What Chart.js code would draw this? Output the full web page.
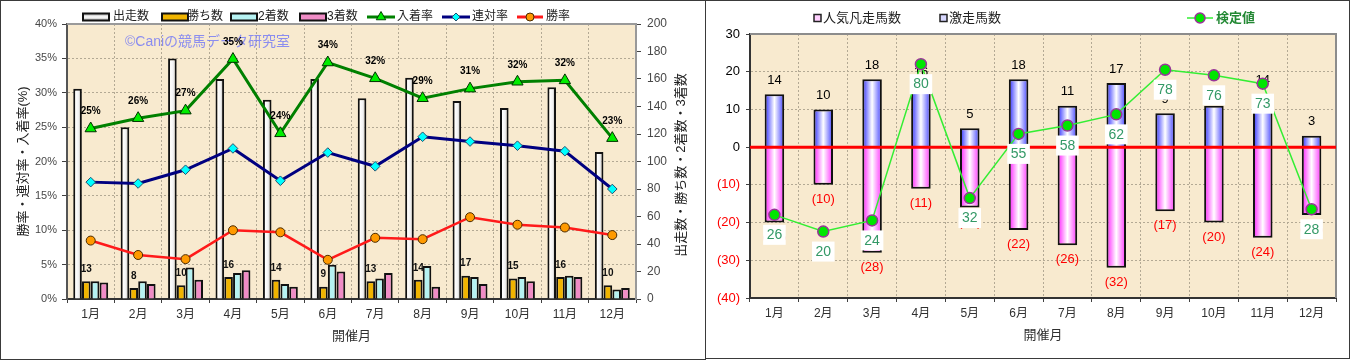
<!DOCTYPE html>
<html><head><meta charset="utf-8">
<script src="https://cdn.jsdelivr.net/npm/chart.js@4.4.1/dist/chart.umd.min.js"></script>
<style>
html,body{margin:0;padding:0;background:#fff;width:1351px;height:360px;overflow:hidden}
.panel{position:absolute;border:1px solid #3a3a3a;box-sizing:border-box}
#p1{left:0;top:0;width:706px;height:360px}
#p2{left:705px;top:0;width:645px;height:359px}
canvas{position:absolute}
#c1{left:1px;top:1px}
#c2{left:707px;top:1px}
</style></head><body>
<div class="panel" id="p1"></div><div class="panel" id="p2"></div>
<canvas id="c1" width="703" height="357"></canvas>
<canvas id="c2" width="641" height="356"></canvas>
<script>
// ---------- data ----------
const months = ['1月','2月','3月','4月','5月','6月','7月','8月','9月','10月','11月','12月'];
// left chart
const runners = [153,125,175,160,145,160,146,161,144,139,154,107];   // 出走数
const wins    = [13,8,10,16,14,9,13,14,17,15,16,10];                 // 勝ち数
const seconds = [13,13,23,19,11,25,15,24,16,16,17,7];                // 2着数
const thirds  = [12,11,14,21,9,20,19,9,11,13,16,8];                  // 3着数
const placeRate    = [24.8,26.3,27.4,34.9,24.1,34.4,32.1,29.2,30.6,31.6,31.8,23.4]; // 入着率
const placeLabels  = ['25%','26%','27%','35%','24%','34%','32%','29%','31%','32%','32%','23%'];
const quinellaRate = [17.0,16.8,18.8,21.9,17.2,21.3,19.3,23.6,22.9,22.3,21.5,16.0]; // 連対率
const winRate      = [8.5,6.4,5.8,10.0,9.7,5.7,8.9,8.7,11.9,10.8,10.4,9.3];          // 勝率
const pctTicks   = [0,5,10,15,20,25,30,35,40];
const countTicks = [0,20,40,60,80,100,120,140,160,180,200];
// right chart
const upsetHorses = [14,10,18,16,5,18,11,17,9,11,14,3];                       // 激走馬数
const flopHorses  = [-20,-10,-28,-11,-16,-22,-26,-32,-17,-20,-24,-18];        // 人気凡走馬数
const testValues  = [26,20,24,80,32,55,58,62,78,76,73,28];                    // 検定値
const diffTicks   = [-40,-30,-20,-10,0,10,20,30];

// ---------- styling helpers ----------
const FONT = "'Liberation Sans','Noto Sans CJK JP',sans-serif";
Chart.defaults.font.family = FONT;
Chart.defaults.animation = false;
const PARCH = '#f8eacf';
const GRID = '#b3a994';

function gradFill(stops, slot, nSlots, groupFrac, fallback){
  return (c) => {
    const chart = c.chart, xs = chart.scales && chart.scales.x;
    if (c.type !== 'data' || !xs || !chart.chartArea || !isFinite(xs.width)) return fallback;
    const catW = xs.width / months.length;
    const center = xs.getPixelForValue(c.dataIndex);
    const gw = catW * groupFrac, bw = gw / nSlots;
    const l = center - gw/2 + slot*bw;
    const g = chart.ctx.createLinearGradient(l,0,l+bw,0);
    stops.forEach(s => g.addColorStop(s[0], s[1]));
    return g;
  };
}
const whiteStops = [[0,'#8c8c8c'],[0.28,'#ffffff'],[0.6,'#f2f2f2'],[1,'#a2a2a2']];
const blueStops  = [[0,'#2a2aff'],[0.5,'#ffffff'],[1,'#4040ff']];
const pinkStops  = [[0,'#ff1aff'],[0.5,'#ffffff'],[1,'#ff33ff']];
const GOLD = '#f0b400', CYAN = '#b6f2f2', PINK = '#f08cc6';

function marker(ctx, style, x, y, r, fill, stroke){
  ctx.save();
  ctx.fillStyle = fill; ctx.strokeStyle = stroke; ctx.lineWidth = 1;
  Chart.helpers.drawPoint(ctx, {pointStyle:style, radius:r, borderWidth:1, rotation:0}, x, y);
  ctx.restore();
}

// ---------- left chart ----------
const leftDeco = {
  id:'leftDeco',
  beforeDraw(chart){
    const {ctx, chartArea:a} = chart;
    ctx.save(); ctx.fillStyle = PARCH; ctx.fillRect(a.left,a.top,a.right-a.left,a.bottom-a.top); ctx.restore();
  },
  beforeDatasetsDraw(chart){
    const {ctx, chartArea:a} = chart;
    ctx.save();
    ctx.strokeStyle = '#9a9a9a'; ctx.lineWidth = 2;
    ctx.beginPath(); ctx.moveTo(a.left, a.top); ctx.lineTo(a.right, a.top); ctx.stroke();
    // watermark
    ctx.font = '14px ' + FONT; ctx.fillStyle = 'rgba(120,125,245,0.85)';
    ctx.textBaseline = 'middle'; ctx.textAlign = 'left';
    ctx.fillText('©Caniの競馬データ研究室', 124, 41);
    // win count labels (behind bars)
    const meta = chart.getDatasetMeta(4);
    ctx.font = 'bold 10px ' + FONT; ctx.fillStyle = '#111'; ctx.textAlign = 'center';
    meta.data.forEach((el,i) => ctx.fillText(String(wins[i]), el.x, el.y - 12));
    ctx.restore();
  },
  afterDatasetsDraw(chart){
    const {ctx} = chart;
    const meta = chart.getDatasetMeta(2);
    ctx.save();
    ctx.font = 'bold 10px ' + FONT; ctx.fillStyle = '#000';
    ctx.textAlign = 'center'; ctx.textBaseline = 'middle';
    meta.data.forEach((el,i) => ctx.fillText(placeLabels[i], el.x, el.y - 17));
    ctx.restore();
  },
  afterDraw(chart){
    const {ctx} = chart;
    ctx.save();
    // right axis title
    ctx.translate(680.5, 164); ctx.rotate(-Math.PI/2);
    ctx.font = '13px ' + FONT; ctx.fillStyle = '#202020';
    ctx.textAlign = 'center'; ctx.textBaseline = 'middle';
    ctx.fillText('出走数・勝ち数・2着数・3着数', 0, 0);
    ctx.restore();
    // legend
    ctx.save();
    const y = 16;
    ctx.font = '12px ' + FONT; ctx.textBaseline = 'middle'; ctx.textAlign = 'left';
    const bars = [
      {x:82, t:'出走数', tx:112, fill:null},
      {x:161, t:'勝ち数', tx:186, fill:GOLD},
      {x:230, t:'2着数', tx:257, fill:CYAN},
      {x:299, t:'3着数', tx:326, fill:PINK}
    ];
    bars.forEach(b => {
      let f = b.fill;
      if (!f){ const g = ctx.createLinearGradient(0,y-4,0,y+4); g.addColorStop(0,'#9a9a9a'); g.addColorStop(0.5,'#ffffff'); g.addColorStop(1,'#a0a0a0'); f = g; }
      ctx.fillStyle = f; ctx.fillRect(b.x, y-3.5, 26, 7);
      ctx.strokeStyle = '#111'; ctx.lineWidth = 2; ctx.strokeRect(b.x, y-3.5, 26, 7);
      ctx.fillStyle = '#222'; ctx.fillText(b.t, b.tx, y);
    });
    const lines = [
      {x0:366, x1:394, t:'入着率', tx:396, col:'#008000', st:'triangle', r:5.5, f:'#00ee00', s:'#004000'},
      {x0:441, x1:469, t:'連対率', tx:471, col:'#000080', st:'rectRot', r:4, f:'#00ffff', s:'#205070'},
      {x0:516, x1:542, t:'勝率',   tx:545, col:'#ff1a1a', st:'circle', r:4, f:'#ff9a00', s:'#4a2a00'}
    ];
    lines.forEach(l => {
      ctx.strokeStyle = l.col; ctx.lineWidth = 3;
      ctx.beginPath(); ctx.moveTo(l.x0, y); ctx.lineTo(l.x1, y); ctx.stroke();
      marker(ctx, l.st, (l.x0+l.x1)/2, y, l.r, l.f, l.s);
      ctx.fillStyle = '#222'; ctx.fillText(l.t, l.tx, y);
    });
    ctx.restore();
  }
};

new Chart(document.getElementById('c1'), {
  type:'bar',
  data:{
    labels: months,
    datasets:[
      {type:'line', label:'勝率', data:winRate, yAxisID:'y', borderColor:'#ff1a1a', borderWidth:2.5,
       pointStyle:'circle', pointRadius:4.5, pointBackgroundColor:'#ff9a00', pointBorderColor:'#4a2a00', pointBorderWidth:1},
      {type:'line', label:'連対率', data:quinellaRate, yAxisID:'y', borderColor:'#000080', borderWidth:3,
       pointStyle:'rectRot', pointRadius:4.8, pointBackgroundColor:'#00ffff', pointBorderColor:'#205070', pointBorderWidth:1},
      {type:'line', label:'入着率', data:placeRate, yAxisID:'y', borderColor:'#008000', borderWidth:3,
       pointStyle:'triangle', pointRadius:6.5, pointBackgroundColor:'#00ee00', pointBorderColor:'#003000', pointBorderWidth:1},
      {label:'出走数', data:runners, yAxisID:'y1', backgroundColor:gradFill(whiteStops,0,4,0.74,'#eeeeee'), borderColor:'#111', borderWidth:2},
      {label:'勝ち数', data:wins, yAxisID:'y1', backgroundColor:GOLD, borderColor:'#111', borderWidth:2},
      {label:'2着数', data:seconds, yAxisID:'y1', backgroundColor:CYAN, borderColor:'#111', borderWidth:2},
      {label:'3着数', data:thirds, yAxisID:'y1', backgroundColor:PINK, borderColor:'#111', borderWidth:2}
    ]
  },
  options:{
    responsive:false, animation:false,
    layout:{padding:{top:23,left:0,right:0,bottom:0}},
    datasets:{bar:{categoryPercentage:0.74, barPercentage:0.98}, line:{tension:0}},
    plugins:{legend:{display:false}, tooltip:{enabled:false}},
    scales:{
      x:{
        grid:{offset:true, color:GRID, lineWidth:1, drawTicks:true, tickLength:4, tickColor:'#404040', tickBorderDash:[]},
        border:{color:'#333', width:2, dash:[2,2]},
        ticks:{color:'#303030', font:{size:12}, padding:4, maxRotation:0, autoSkip:false},
        title:{display:true, text:'開催月', color:'#303030', font:{size:13}, padding:{top:0,bottom:13.5}},
        afterFit:s => { s.height = 59; }
      },
      y:{
        position:'left', min:0, max:40,
        afterBuildTicks:s => { s.ticks = pctTicks.map(v => ({value:v})); },
        ticks:{callback:v => v + '%', color:'#484848', font:{size:11}, padding:5},
        grid:{color:GRID, lineWidth:1, tickLength:5, tickColor:'#404040', tickBorderDash:[]},
        border:{color:'#555', width:2, dash:[2,2]},
        title:{display:true, text:'勝率・連対率・入着率(%)', color:'#202020', font:{size:13}, padding:{top:15,bottom:0}},
        afterFit:s => { s.width = 66; }
      },
      y1:{
        position:'right', min:0, max:200,
        afterBuildTicks:s => { s.ticks = countTicks.map(v => ({value:v})); },
        ticks:{color:'#484848', font:{size:12}, padding:6},
        grid:{drawOnChartArea:false, tickLength:5, tickColor:'#404040'},
        border:{color:'#999', width:2},
        afterFit:s => { s.width = 68; }
      }
    }
  },
  plugins:[leftDeco]
});

// ---------- right chart ----------
const rightDeco = {
  id:'rightDeco',
  beforeDraw(chart){
    const {ctx, chartArea:a} = chart;
    ctx.save(); ctx.fillStyle = PARCH; ctx.fillRect(a.left,a.top,a.right-a.left,a.bottom-a.top); ctx.restore();
  },
  beforeDatasetsDraw(chart){
    const {ctx, chartArea:a} = chart;
    ctx.save();
    ctx.strokeStyle = '#8c8c8c'; ctx.lineWidth = 2;
    ctx.beginPath(); ctx.moveTo(a.left, a.top); ctx.lineTo(a.right, a.top); ctx.lineTo(a.right, a.bottom); ctx.stroke();
    ctx.restore();
  },
  beforeDatasetDraw(chart, args){
    if (args.index !== 0) return;
    const {ctx, chartArea:a} = chart;
    const y0 = chart.scales.y.getPixelForValue(0);
    ctx.save();
    ctx.strokeStyle = '#ff0000'; ctx.lineWidth = 3;
    ctx.beginPath(); ctx.moveTo(a.left, y0); ctx.lineTo(a.right, y0); ctx.stroke();
    ctx.font = '13px ' + FONT; ctx.textAlign = 'center'; ctx.textBaseline = 'middle';
    ctx.fillStyle = '#000';
    chart.getDatasetMeta(1).data.forEach((el,i) => ctx.fillText(String(upsetHorses[i]), el.x, el.y - 14));
    ctx.fillStyle = '#ff0000';
    chart.getDatasetMeta(2).data.forEach((el,i) => ctx.fillText('(' + (-flopHorses[i]) + ')', el.x, el.y + 14.5));
    ctx.restore();
  },
  afterDatasetsDraw(chart){
    const {ctx} = chart;
    ctx.save();
    ctx.font = '14px ' + FONT; ctx.textAlign = 'center'; ctx.textBaseline = 'middle';
    chart.getDatasetMeta(0).data.forEach((el,i) => {
      const t = String(testValues[i]);
      const w = ctx.measureText(t).width + 7, h = 20, cy = el.y + 20;
      ctx.fillStyle = '#ffffff'; ctx.fillRect(el.x - w/2, cy - h/2, w, h);
      ctx.fillStyle = '#339966'; ctx.fillText(t, el.x, cy + 0.5);
    });
    ctx.restore();
  },
  afterDraw(chart){
    const {ctx} = chart;
    const y = 17;
    ctx.save();
    ctx.font = '13px ' + FONT; ctx.textBaseline = 'middle'; ctx.textAlign = 'left';
    // 人気凡走馬数
    ctx.fillStyle = '#ffd0ff'; ctx.fillRect(107, y-3.5, 7, 7);
    ctx.strokeStyle = '#222'; ctx.lineWidth = 1.5; ctx.strokeRect(107, y-3.5, 7, 7);
    ctx.fillStyle = '#222'; ctx.fillText('人気凡走馬数', 116, y);
    // 激走馬数
    ctx.fillStyle = '#d8d8ff'; ctx.fillRect(233, y-3.5, 7, 7);
    ctx.strokeStyle = '#222'; ctx.strokeRect(233, y-3.5, 7, 7);
    ctx.fillStyle = '#222'; ctx.fillText('激走馬数', 242, y);
    // 検定値
    ctx.strokeStyle = '#33ee33'; ctx.lineWidth = 1.5;
    ctx.beginPath(); ctx.moveTo(480, y); ctx.lineTo(506, y); ctx.stroke();
    ctx.save(); ctx.lineWidth = 1.5;
    ctx.fillStyle = '#00e600'; ctx.strokeStyle = '#993399';
    ctx.beginPath(); ctx.arc(493, y, 5, 0, Math.PI*2); ctx.fill(); ctx.stroke();
    ctx.restore();
    ctx.font = 'bold 13px ' + FONT; ctx.fillStyle = '#228833';
    ctx.fillText('検定値', 509, y);
    ctx.restore();
  }
};

new Chart(document.getElementById('c2'), {
  type:'bar',
  data:{
    labels: months,
    datasets:[
      {type:'line', label:'検定値', data:testValues, yAxisID:'y2', borderColor:'#33ee33', borderWidth:1.5, tension:0,
       pointStyle:'circle', pointRadius:5.5, pointBackgroundColor:'#00e600', pointBorderColor:'#993399', pointBorderWidth:1.5},
      {label:'激走馬数', data:upsetHorses, yAxisID:'y', stack:'s',
       backgroundColor:gradFill(blueStops,0,1,0.4,'#8080ff'), borderColor:'#111', borderWidth:2},
      {label:'人気凡走馬数', data:flopHorses, yAxisID:'y', stack:'s',
       backgroundColor:gradFill(pinkStops,0,1,0.4,'#ff80ff'), borderColor:'#111', borderWidth:2}
    ]
  },
  options:{
    responsive:false, animation:false,
    layout:{padding:{top:33,left:0,right:12,bottom:0}},
    datasets:{bar:{categoryPercentage:0.8, barPercentage:0.5}},
    plugins:{legend:{display:false}, tooltip:{enabled:false}},
    scales:{
      x:{
        stacked:true,
        grid:{offset:true, color:GRID, lineWidth:1, drawTicks:true, tickLength:4, tickColor:'#404040', tickBorderDash:[]},
        border:{color:'#333', width:2, dash:[2,2]},
        ticks:{color:'#303030', font:{size:12}, padding:4, maxRotation:0, autoSkip:false},
        title:{display:true, text:'開催月', color:'#303030', font:{size:13}, padding:{top:0,bottom:14}},
        afterFit:s => { s.height = 59; }
      },
      y:{
        stacked:true, min:-40, max:30,
        afterBuildTicks:s => { s.ticks = diffTicks.map(v => ({value:v})); },
        ticks:{callback:v => v < 0 ? '(' + (-v) + ')' : String(v),
               color:c => (c.tick && c.tick.value < 0) ? '#ff0000' : '#000000',
               font:{size:13}, padding:6},
        grid:{color:GRID, lineWidth:1, tickLength:4, tickColor:'#404040', tickBorderDash:[]},
        border:{color:'#333', width:2, dash:[2,2]},
        afterFit:s => { s.width = 43; }
      },
      y2:{display:false, min:-3.8, max:90.8}
    }
  },
  plugins:[rightDeco]
});
</script>
</body></html>
